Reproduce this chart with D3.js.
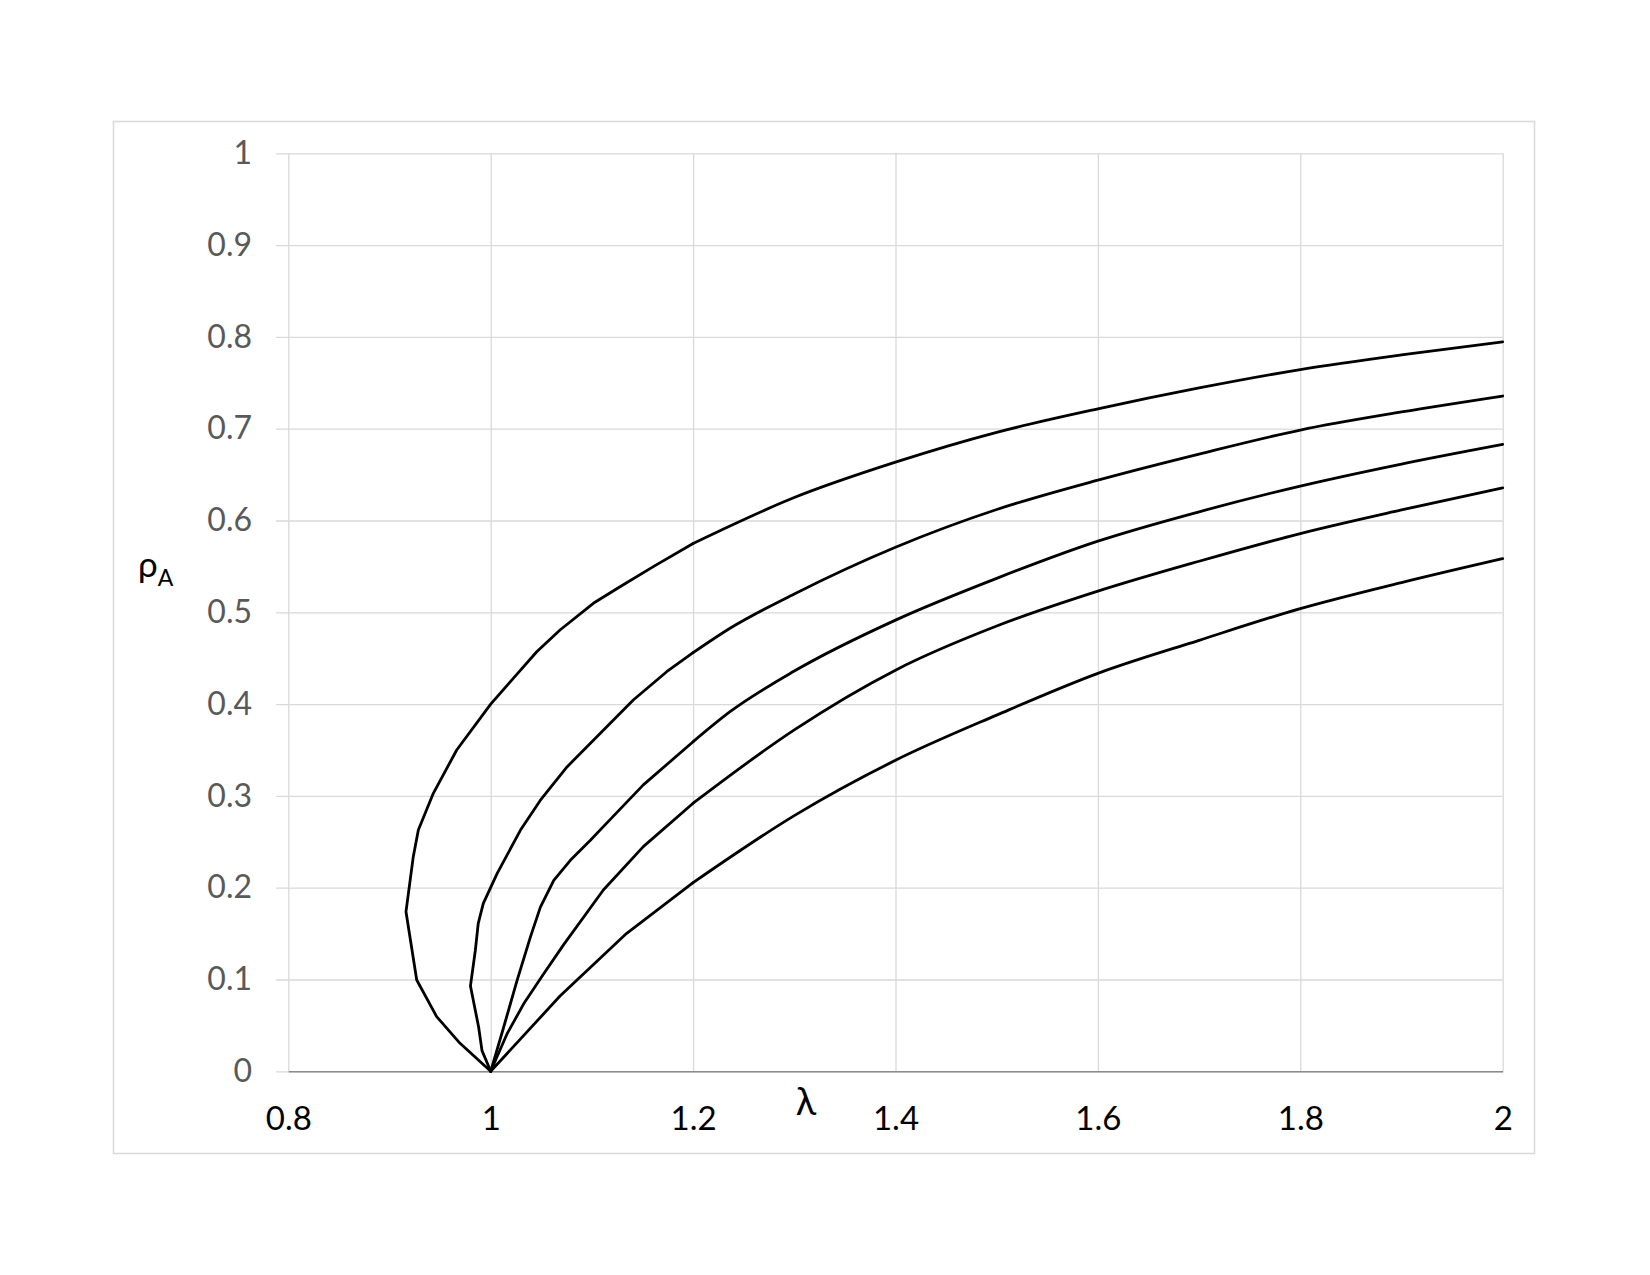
<!DOCTYPE html>
<html>
<head>
<meta charset="utf-8">
<script src="https://cdn.jsdelivr.net/npm/d3@7"></script>
<style>
  body { margin: 0; background: #fff; }
  svg { display: block; font-family: Lato, "Open Sans", sans-serif; }
</style>
</head>
<body>
<svg id="chart" width="1650" height="1275"></svg>
<script>
// axis ticks
const lambdaTicks = [0.8, 1, 1.2, 1.4, 1.6, 1.8, 2];
const rhoTicks = [0, 0.1, 0.2, 0.3, 0.4, 0.5, 0.6, 0.7, 0.8, 0.9, 1];

// curves as [lambda, rhoA]
const curve1 = [[1, 0], [0.9697, 0.0305], [0.9466, 0.0595], [0.9269, 0.0995], [0.9163, 0.1739],
  [0.9235, 0.2338], [0.9285, 0.2629], [0.9433, 0.3028], [0.9664, 0.350], [1, 0.4],
  [1.0223, 0.428], [1.0455, 0.457], [1.0685, 0.4807], [1.1014, 0.5098], [1.1278, 0.5279],
  [1.1607, 0.5497], [1.2, 0.575], [1.3, 0.625], [1.4, 0.6635], [1.5, 0.696], [1.6, 0.7216],
  [1.7, 0.7444], [1.8, 0.7644], [1.9, 0.7804], [2, 0.7945]];
const curve2 = [[1, 0], [0.9914, 0.0225], [0.9881, 0.048], [0.9800, 0.0930], [0.9848, 0.1316],
  [0.9877, 0.1612], [0.9927, 0.183], [1.0063, 0.2153], [1.0293, 0.2625], [1.0491, 0.2953],
  [1.0754, 0.3316], [1.1409, 0.4045], [1.1739, 0.4353], [1.2, 0.456], [1.2365, 0.4826],
  [1.3, 0.520], [1.4, 0.5709], [1.5, 0.612], [1.6, 0.644], [1.7, 0.6724], [1.8, 0.6985],
  [1.9, 0.7182], [2, 0.7356]];
const curve3 = [[1, 0], [1.0128, 0.048], [1.026, 0.0989], [1.0392, 0.1462], [1.0491, 0.1789],
  [1.0623, 0.208], [1.0787, 0.2298], [1.0985, 0.2516], [1.1113, 0.2665], [1.1508, 0.312],
  [1.2, 0.359], [1.2365, 0.3917], [1.3, 0.436], [1.4, 0.4915], [1.5, 0.537], [1.6, 0.5775],
  [1.7, 0.6095], [1.8, 0.6375], [1.9, 0.6615], [2, 0.6829]];
const curve4 = [[1, 0], [1.0161, 0.0407], [1.0326, 0.0735], [1.0524, 0.1062], [1.0721, 0.138],
  [1.1113, 0.1975], [1.1508, 0.2447], [1.2, 0.292], [1.3, 0.372], [1.4, 0.437], [1.5, 0.485],
  [1.6, 0.523], [1.7, 0.5556], [1.8, 0.5858], [1.9, 0.6115], [2, 0.6356]];
const curve5 = [[1, 0], [1.0685, 0.082], [1.1344, 0.1503], [1.2, 0.2055], [1.3, 0.2785],
  [1.4, 0.3388], [1.5, 0.388], [1.6, 0.4335], [1.7, 0.4695], [1.8, 0.504], [1.9, 0.5324],
  [2, 0.5585]];
const curves = [curve1, curve2, curve3, curve4, curve5];

const svg = d3.select('#chart');

const plot = { left: 288.3, right: 1502.7, top: 153.3, bottom: 1071.3 };

const x = d3.scaleLinear().domain([0.8, 2]).range([plot.left, plot.right]);
const y = d3.scaleLinear().domain([0, 1]).range([plot.bottom, plot.top]);

// chart frame
svg.append('rect')
  .attr('x', 113.5).attr('y', 121.5)
  .attr('width', 1421).attr('height', 1032)
  .attr('fill', '#fff')
  .attr('stroke', '#d9d9d9')
  .attr('stroke-width', 1.5);

// horizontal gridlines + outside tick marks + labels (axis anchored at right edge)
const yAxis = svg.append('g')
  .attr('transform', `translate(${plot.right},0)`)
  .call(d3.axisLeft(y)
    .tickValues(rhoTicks)
    .tickSize(plot.right - 276)
    .tickPadding(24)
    .tickFormat(d3.format('~g')));
yAxis.select('.domain').remove();
yAxis.selectAll('.tick line').attr('stroke', '#d9d9d9').attr('stroke-width', 1.3);
yAxis.selectAll('.tick text')
  .attr('fill', '#595959')
  .style('font-size', '32px')
  .style('font-family', 'Lato, "Open Sans", sans-serif');

// vertical gridlines + x labels
const xAxis = svg.append('g')
  .attr('transform', `translate(0,${plot.bottom})`)
  .call(d3.axisBottom(x)
    .tickValues(lambdaTicks)
    .tickSizeInner(-(plot.bottom - plot.top))
    .tickSizeOuter(0)
    .tickPadding(35)
    .tickFormat(d3.format('~g')));
xAxis.selectAll('.tick line').attr('stroke', '#d9d9d9').attr('stroke-width', 1.3);
xAxis.select('.domain').attr('stroke', '#8c8c8c').attr('stroke-width', 1.5).raise();
xAxis.selectAll('.tick text')
  .attr('fill', '#000')
  .style('font-size', '33px')
  .style('font-family', 'Lato, "Open Sans", sans-serif');

// axis titles
svg.append('text')
  .attr('x', 806).attr('y', 1115)
  .attr('text-anchor', 'middle')
  .attr('fill', '#000')
  .style('font-size', '38px')
  .text('λ');

const rhoLabel = svg.append('text')
  .attr('x', 138).attr('y', 577)
  .attr('fill', '#000')
  .style('font-size', '35px');
rhoLabel.append('tspan').text('ρ');
rhoLabel.append('tspan')
  .attr('dy', 9)
  .style('font-size', '23px')
  .text('A');

// curves: the turning part near lambda = 1 keeps its straight segments,
// the long tail from lambda = 1.2 on is drawn smooth
const lineStraight = d3.line()
  .x(d => x(d[0]))
  .y(d => y(d[1]))
  .curve(d3.curveLinear);
const lineSmooth = d3.line()
  .x(d => x(d[0]))
  .y(d => y(d[1]))
  .curve(d3.curveMonotoneX);

const pieces = [];
curves.forEach(c => {
  const i = c.findIndex(d => d[0] >= 1.2);
  pieces.push({ pts: c.slice(0, i + 1), gen: lineStraight });
  pieces.push({ pts: c.slice(i), gen: lineSmooth });
});

svg.append('g')
  .selectAll('path')
  .data(pieces)
  .join('path')
  .attr('d', d => d.gen(d.pts))
  .attr('fill', 'none')
  .attr('stroke', '#000')
  .attr('stroke-width', 2.8)
  .attr('stroke-linejoin', 'round')
  .attr('stroke-linecap', 'round');
</script>
</body>
</html>
